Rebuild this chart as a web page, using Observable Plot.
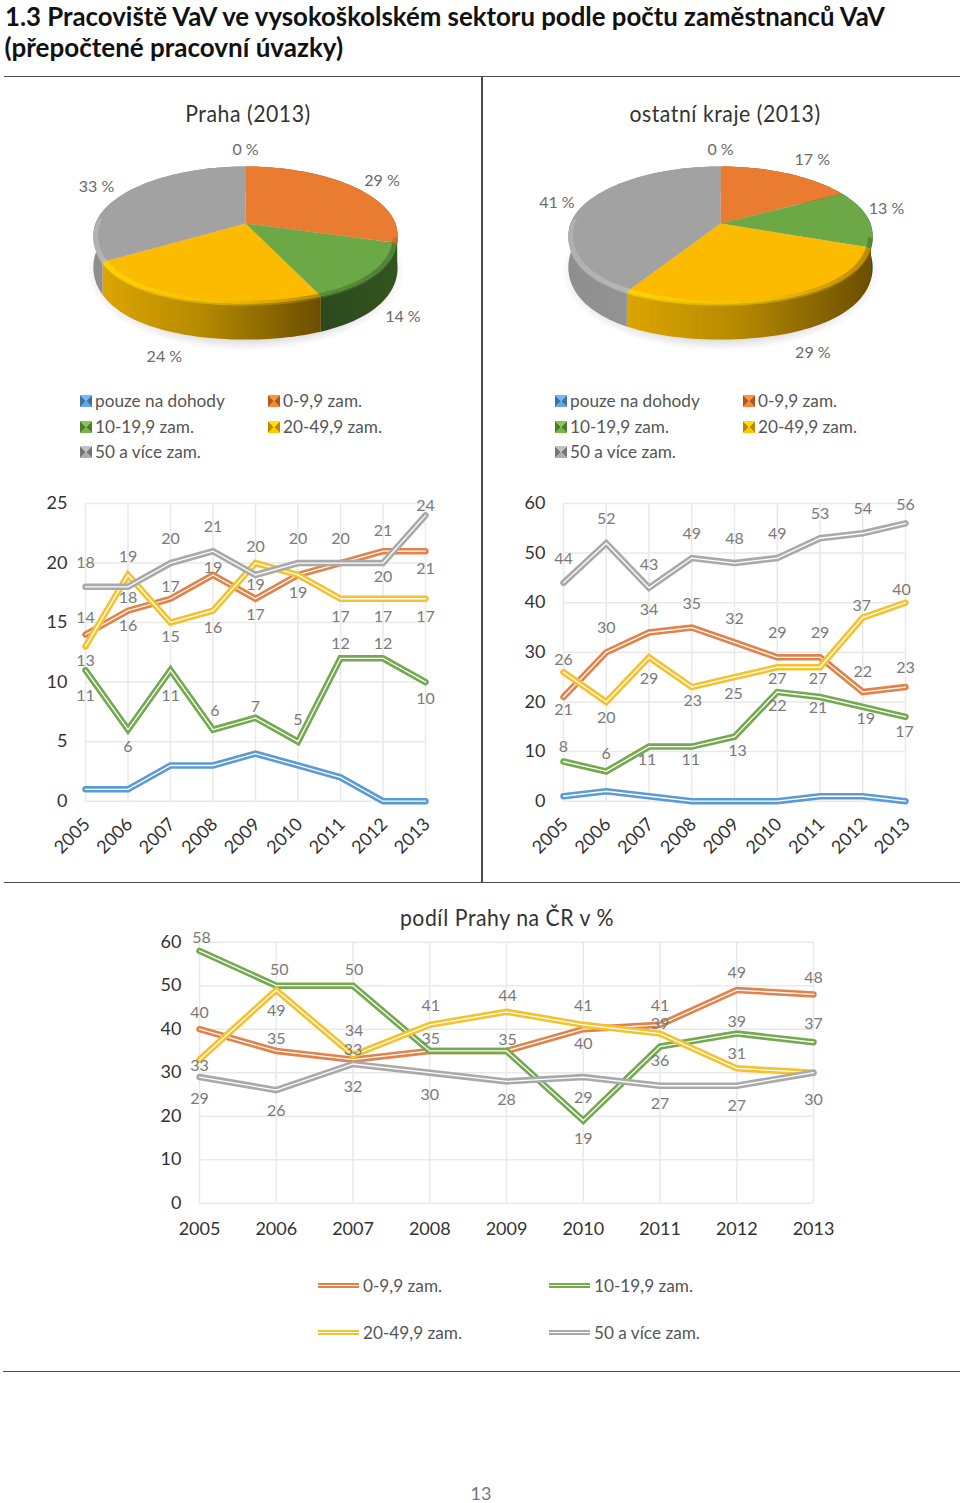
<!DOCTYPE html>
<html lang="cs">
<head>
<meta charset="utf-8">
<script src="https://cdn.jsdelivr.net/npm/d3@7"></script>
<script src="https://cdn.jsdelivr.net/npm/@observablehq/plot@0.6"></script>
<style>
html,body{margin:0;padding:0;background:#fff;}
#page{position:relative;width:960px;height:1503px;overflow:hidden;font-family:Lato,"Noto Sans",sans-serif;}
#page>*{position:absolute;}
.rule{background:#4d4d4d;}
.t{white-space:nowrap;}
.ptitle{transform:translateX(-50%) scaleX(.885);font-size:24px;color:#333;letter-spacing:.6px;line-height:28px;}
.leg{font-size:17.2px;color:#555;line-height:22px;white-space:nowrap;}
.sw{width:12px;height:12px;}
</style>
</head>
<body>
<div id="page"></div>
<script>
const years = [2005,2006,2007,2008,2009,2010,2011,2012,2013];
const pieCategories = ["pouze na dohody","0-9,9 zam.","10-19,9 zam.","20-49,9 zam.","50 a více zam."];
const lineCategories = ["0-9,9 zam.","10-19,9 zam.","20-49,9 zam.","50 a více zam."];

// Pie values (2013, %)
const piePraha = [0,29,14,24,33];
const pieKraje = [0,17,13,29,41];

// Praha, by category
const prahaDohody = [1,1,3,3,4,3,2,0,0];
const praha09 = [14,16,17,19,17,19,20,21,21];
const praha10 = [11,6,11,6,7,5,12,12,10];
const praha20 = [13,19,15,16,20,19,17,17,17];
const praha50 = [18,18,20,21,19,20,20,20,24];

// Other regions, by category
const krajeDohody = [1,2,1,0,0,0,1,1,0];
const kraje09 = [21,30,34,35,32,29,29,22,23];
const kraje10 = [8,6,11,11,13,22,21,19,17];
const kraje20 = [26,20,29,23,25,27,27,37,40];
const kraje50 = [44,52,43,49,48,49,53,54,56];

// Share of Praha in CZ, %
const podil09 = [40,35,33,35,35,40,41,49,48];
const podil10 = [58,50,50,35,35,19,36,39,37];
const podil20 = [33,49,34,41,44,41,39,31,30];
const podil50 = [29,26,32,30,28,29,27,27,30];

// Styling (separate from the data)
const lineColors = {dohody:"#5B9BD5", c09:"#E2824A", c10:"#74A94F", c20:"#F3C22E", c50:"#A9A9A9"};
const pieColors = ["#5B9BD5","#E97C30","#6CA845","#FDBB00","#A2A2A2"];
const FONT = 'Lato,"Noto Sans",sans-serif';
const page = document.getElementById("page");

function place(el, left, top){ el.style.left = left+"px"; el.style.top = top+"px"; page.appendChild(el); return el; }
function div(cls, text){ const d = document.createElement("div"); d.className = cls; if (text!=null) d.textContent = text; return d; }
function rule(x,y,w,h){ const d = div("rule"); d.style.width=w+"px"; d.style.height=h+"px"; place(d,x,y); }

// Headline and dividers
const h1 = div("t","1.3 Pracoviště VaV ve vysokoškolském sektoru podle počtu zaměstnanců VaV");
h1.style.cssText = "font-weight:700;font-size:26px;line-height:30px;color:#111;transform-origin:0 50%;transform:scaleX(.992);";
place(h1,4.5,0.7);
const h2 = div("t","(přepočtené pracovní úvazky)");
h2.style.cssText = "font-weight:700;font-size:26px;line-height:32px;color:#111;transform-origin:0 50%;transform:scaleX(1);";
place(h2,4.5,31);
rule(4,75.5,956,1.6); rule(481,76,1.6,806); rule(4,881.5,956,1.6); rule(3,1370.5,957,1.6);

// Pie helpers: each slice outline follows from the values
const TILT = 0.444, PERSP = 0.168, DEPTH = 0.2, BULGE = 0.06;
function proj(a,h=0,r=1){
  const u = r*Math.sin(a), v = -r*Math.cos(a), s = 1/(1-PERSP*v);
  const extra = v>0 ? BULGE*u*u*v : 0;
  return {x:u*s, y:(v*TILT+h+extra)*s};
}
function arcAngles(a0,a1){ const n = Math.max(2,Math.ceil((a1-a0)/(Math.PI/90))); return d3.range(n+1).map(i=>a0+(a1-a0)*i/n); }

function shade(id,stops){
  return `<linearGradient id="${id}" x1="0" x2="1" y1="0" y2="0">`+stops.map(([o,c])=>`<stop offset="${o}" stop-color="${c}"/>`).join("")+`</linearGradient>`;
}
const wallShades = [
  [[0,"#3d6ea0"],[1,"#3d6ea0"]],
  [[0,"#a8561f"],[1,"#80400f"]],
  [[0,"#2c4a1e"],[1,"#33541f"]],
  [[0,"#dca500"],[.45,"#b68a00"],[1,"#6b4e00"]],
  [[0,"#8e8e8e"],[1,"#9c9c9c"]]
];
const rimShades = [
  [[0,"#7fb2e0"],[1,"#4a80b0"]],
  [[0,"#d06a28"],[1,"#b05a20"]],
  [[0,"#4a7a30"],[1,"#3f682a"]],
  [[0,"#ffe000"],[.55,"#f2c000"],[1,"#8f6c00"]],
  [[0,"#b9b9b9"],[1,"#c4c4c4"]]
];
const labelOffsets = {
  praha:[[0,-17],[29,-6],[28,42],[-26,57],[-30,-5]],
  kraje:[[0,-17],[25,-14],[19,-8],[32,54],[-26,-3]]
};
const RIM_FROM = 100*Math.PI/180, RIM_TO = 275*Math.PI/180;

function pieChart(key, values, left){
  const total = d3.sum(values);
  let cum = 0;
  const slices = values.map((v,i)=>{
    const a0 = cum/total*2*Math.PI; cum += v; const a1 = cum/total*2*Math.PI;
    return {i,v,a0,a1,mid:(a0+a1)/2};
  });
  const marks = [];
  marks.push(()=>{
    const g = document.createElementNS("http://www.w3.org/2000/svg","defs");
    g.innerHTML = wallShades.map((st,i)=>shade(`${key}w${i}`,st)).join("")+
      rimShades.map((st,i)=>shade(`${key}r${i}`,st)).join("")+
      `<radialGradient id="${key}sh" cx=".5" cy=".5" r=".5"><stop offset=".82" stop-color="#d4d4d4"/><stop offset="1" stop-color="#ffffff"/></radialGradient>`;
    return g;
  });
  // soft ground shadow
  marks.push(Plot.line(arcAngles(0,2*Math.PI).map(a=>proj(a,DEPTH+0.035,1.045)),{x:"x",y:"y",fill:`url(#${key}sh)`,stroke:"none"}));
  // walls
  for (const s of slices) {
    if (!s.v) continue;
    const as = arcAngles(s.a0,s.a1);
    const poly = [...as.map(a=>proj(a,0)), ...as.slice().reverse().map(a=>proj(a,DEPTH))];
    marks.push(Plot.line(poly,{x:"x",y:"y",fill:`url(#${key}w${s.i})`,stroke:"none"}));
  }
  // top faces
  for (const s of slices) {
    if (!s.v) continue;
    const poly = [proj(0,0,0), ...arcAngles(s.a0,s.a1).map(a=>proj(a,0))];
    marks.push(Plot.line(poly,{x:"x",y:"y",fill:pieColors[s.i],stroke:"none"}));
  }
  // bevelled front rim on the top faces
  for (const s of slices) {
    const a0 = Math.max(s.a0,RIM_FROM), a1 = Math.min(s.a1,RIM_TO);
    if (!s.v || a1<=a0) continue;
    const as = arcAngles(a0,a1);
    const poly = [...as.map(a=>proj(a,0,.97)), ...as.slice().reverse().map(a=>proj(a,0.012,1))];
    marks.push(Plot.line(poly,{x:"x",y:"y",fill:`url(#${key}r${s.i})`,fillOpacity:.6,stroke:"none"}));
  }
  // percentage labels
  slices.forEach(s=>{
    const [dx,dy] = labelOffsets[key][s.i];
    marks.push(Plot.text([{...proj(s.mid,0),t:`${s.v} %`}],{x:"x",y:"y",text:"t",dx,dy,fontSize:16,fill:"#6a6a6a"}));
  });
  const p = Plot.plot({
    width:480,height:300,margin:0,
    x:{domain:[-1.6,1.6],range:[0,480],axis:null},
    y:{domain:[-1,1],range:[0,300],axis:null},
    style:{fontFamily:FONT,background:"transparent",overflow:"visible"},
    marks
  });
  place(p,left,73);
}

function swatch(color){
  const c = d3.color(color);
  const d = div("sw");
  d.style.background = `conic-gradient(${c.brighter(.5)} 0 45deg, ${c.darker(.9)} 45deg 135deg, ${c.brighter(.2)} 135deg 225deg, ${c.darker(.9)} 225deg 315deg, ${c.brighter(.5)} 315deg)`;
  return d;
}
function pieLegend(x1,x2){
  const cols = [x1,x2,x1,x2,x1], rows = [401,401,427,427,452];
  pieCategories.forEach((name,i)=>{
    place(swatch(pieColors[i]),cols[i],rows[i]-6);
    place(div("leg",name),cols[i]+15,rows[i]-11);
  });
}

function pieTitle(text,cx){ place(div("ptitle t",text),cx,99); }

pieTitle("Praha (2013)",248);
pieTitle("ostatní kraje (2013)",725);
pieChart("praha",piePraha,5);
pieChart("kraje",pieKraje,480);
pieLegend(80,268);
pieLegend(555,743);

// Line charts
function lineChart(cfg){
  const marks = [];
  marks.push(Plot.ruleY(cfg.yTicks,{stroke:"#e9e9e9",strokeWidth:1.5}));
  marks.push(Plot.ruleX(years,{stroke:"#e9e9e9",strokeWidth:1.5}));
  for (const s of cfg.series) {
    const rows = years.map((year,i)=>({year,value:s.values[i]}));
    marks.push(Plot.line(rows,{x:"year",y:"value",stroke:s.color,strokeWidth:6.5,strokeLinejoin:"miter",strokeMiterlimit:6}));
    marks.push(Plot.line(rows,{x:"year",y:"value",stroke:"#fff",strokeWidth:1.3,strokeLinejoin:"miter",strokeMiterlimit:6}));
  }
  for (const s of cfg.series) {
    if (!s.dy) continue;
    s.dy.forEach((dy,i)=>{
      if (dy==null) return;
      marks.push(Plot.text([{year:years[i],value:s.values[i]}],{x:"year",y:"value",text:d=>String(d.value),dy,dx:s.dx?s.dx[i]:0,fontSize:16,fill:"#7a7a7a"}));
    });
  }
  marks.push(Plot.axisY({ticks:cfg.yTicks,tickSize:0,tickPadding:18,fontSize:18,label:null,color:"#333"}));
  marks.push(Plot.axisX({ticks:years,tickFormat:"d",tickSize:0,tickPadding:cfg.xPad,tickRotate:cfg.rotate,fontSize:18,label:null,color:"#333",dx:cfg.rotate?1.5:0}));
  const p = Plot.plot({
    width:cfg.width,height:cfg.height,
    marginLeft:cfg.ml,marginRight:cfg.mr,marginTop:cfg.mt,marginBottom:cfg.mb,
    x:{type:"linear",domain:[2005,2013]},
    y:{domain:cfg.yDomain},
    style:{fontFamily:FONT,background:"transparent",overflow:"visible"},
    marks
  });
  place(p,cfg.left,cfg.top);
}

lineChart({
  left:0,top:480,width:480,height:400,ml:85,mr:55,mt:23,mb:79.3,rotate:-45,xPad:20,
  yDomain:[0,25],yTicks:[0,5,10,15,20,25],
  series:[
    {values:prahaDohody,color:lineColors.dohody},
    {values:praha09,color:lineColors.c09,dy:[-17,15,-12,-7,16,null,null,-20,18]},
    {values:praha10,color:lineColors.c10,dy:[26,17,26,-19,-11,-22,-14,-14,17],dx:[0,0,0,2,0,0,0,0,0]},
    {values:praha20,color:lineColors.c20,dy:[14,-18,14,17,-16,18,18,18,18]},
    {values:praha50,color:lineColors.c50,dy:[-24,11,-24,-24,10,-24,-24,14,-10]}
  ]
});
lineChart({
  left:480,top:480,width:480,height:400,ml:83,mr:55,mt:23,mb:79.3,rotate:-45,xPad:20,
  yDomain:[0,60],yTicks:[0,10,20,30,40,50,60],
  series:[
    {values:krajeDohody,color:lineColors.dohody},
    {values:kraje09,color:lineColors.c09,dy:[13,-24,-23,-24,-24,-24,-24,-20,-19]},
    {values:kraje10,color:lineColors.c10,dy:[-15,-18,13,13,14,14,11,12,15],dx:[0,0,-2,-1,3,0,-2,3,-1]},
    {values:kraje20,color:lineColors.c20,dy:[-12,16,22,14,17,12,12,-12,-13],dx:[0,0,0,1,-1,0,-2,-1,-4]},
    {values:kraje50,color:lineColors.c50,dy:[-24,-24,-23,-24,-24,-24,-24,-24,-18]}
  ]
});
place(div("ptitle t","podíl Prahy na ČR v %"),506.5,903);
lineChart({
  left:100,top:900,width:760,height:350,ml:99,mr:47,mt:41.7,mb:47.3,rotate:0,xPad:19,
  yDomain:[0,60],yTicks:[0,10,20,30,40,50,60],
  series:[
    {values:podil09,color:lineColors.c09,dy:[-16,-12,-10,null,null,15,-19,-17,-17]},
    {values:podil10,color:lineColors.c10,dy:[-13,-16,-16,-12,-11,18,14,-12,-18],dx:[2,3,1,1,1,0,0,0,0]},
    {values:podil20,color:lineColors.c20,dy:[6,21,-24,-19,-16,-19,-10,-14,null],dx:[0,0,1,1,1,0,0,0,0]},
    {values:podil50,color:lineColors.c50,dy:[22,21,23,22,18,21,18,20,27]}
  ]
});

// Line legend
function lineLegend(){
  const pos = [[318,1286],[549,1286],[318,1333],[549,1333]];
  const keys = ["c09","c10","c20","c50"];
  lineCategories.forEach((name,i)=>{
    const [x,y] = pos[i];
    const s = div("dbl");
    s.style.cssText = `width:41px;height:1.4px;border-top:2.3px solid ${lineColors[keys[i]]};border-bottom:2.3px solid ${lineColors[keys[i]]};background:#fff;box-sizing:content-box;`;
    place(s,x,y-3);
    place(div("leg",name),x+45,y-11);
  });
}
lineLegend();

// Page number
const pn = div("t","13");
pn.style.cssText = "font-size:18px;color:#777;transform:translateX(-50%);line-height:18px;";
place(pn,481,1484);
</script>
</body>
</html>
